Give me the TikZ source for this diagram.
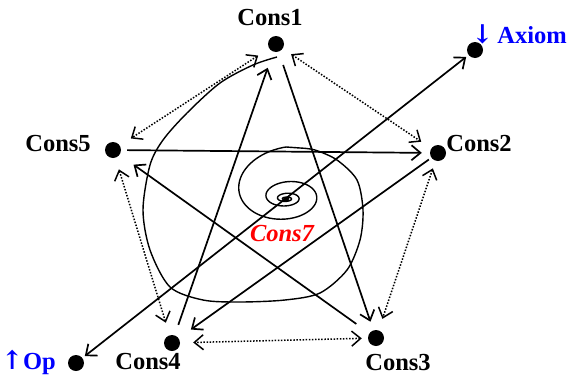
\documentclass[tikz,border=0pt]{standalone}
\usepackage{fontspec}
\setmainfont{Liberation Serif}
\newfontfamily\arrowfont{DejaVu Serif}
\usetikzlibrary{arrows.meta}
\begin{document}
\begin{tikzpicture}[x=1pt,y=-1pt,
  >={Straight Barb[length=9pt,width=15pt]},
  dotnode/.style={circle,fill=black,inner sep=0pt,minimum size=16pt},
  lbl/.style={inner sep=0pt,font=\fontsize{24.5}{28}\selectfont\bfseries},
  solidarrow/.style={line width=1.7pt,->},
  bothsolid/.style={line width=1.7pt,<->},
  dotarrow/.style={line width=1.5pt,dash pattern=on 1.5pt off 1.6pt,<->},
  spiralline/.style={line width=1.4pt}]
\useasboundingbox (0,0) rectangle (568,378);

% points
\node[dotnode] (c1) at (276,44) {};
\node[dotnode] (ax) at (475,50) {};
\node[dotnode] (c5) at (113,150) {};
\node[dotnode] (c2) at (438,153) {};
\node[dotnode] (c4) at (172,343) {};
\node[dotnode] (op) at (76,363) {};
\node[dotnode] (c3) at (376,338) {};

% labels
\node[lbl] (l1) at (270,18) {Cons1};
\node[lbl,text=blue,anchor=east] (lax) at (567,34) {{\arrowfont\bfseries\fontsize{26}{28}\selectfont ↓}\hspace{4pt}Axiom};
\node[lbl] (l5) at (58,144) {Cons5};
\node[lbl] (l2) at (479,144) {Cons2};
\node[lbl] (l4) at (148,362) {Cons4};
\node[lbl,text=blue,anchor=east] (lop) at (56,362) {{\arrowfont\bfseries\fontsize{26}{28}\selectfont ↑}Op};
\node[lbl] (l3) at (398,363) {Cons3};

% spiral
\draw[spiralline] plot[smooth] coordinates {(277,57) (253,65) (220,83) (187,113) (163,140) (150,165) (143,210) (150,250) (170,287) (203,300) (240,302) (285,300) (320,293) (347,270) (360,240) (363,210) (357,180) (337,160) (315,150) (300,148)}
  -- plot[domain=0:1620,samples=500,variable=\s] ({286+58*exp(-\s/420)*cos(\s+90)},{190+9*(1-exp(-\s/300))-43*exp(-\s/330)*sin(\s+90)});

% dotted pentagon
\draw[dotarrow,shorten <=13pt,shorten >=13pt] (c1) -- (c5);
\draw[dotarrow,shorten <=10pt,shorten >=12pt] (c1) -- (c2);
\draw[dotarrow,shorten <=8pt,shorten >=12pt] (c2) -- (c3);
\draw[dotarrow,shorten <=6pt,shorten >=13pt] (c3) -- (c4);
\draw[dotarrow,shorten <=13pt,shorten >=12pt] (c4) -- (c5);

% solid star
\draw[solidarrow,shorten <=6pt,shorten >=8pt] (c5) -- (c2);
\draw[solidarrow,shorten <=3pt,shorten >=15pt] (c2) -- (c4);
\draw[solidarrow,shorten <=11pt,shorten >=17pt] (c4) -- (c1);
\draw[solidarrow,shorten <=14pt,shorten >=9pt] (c1) -- (c3);
\draw[solidarrow,shorten <=16pt,shorten >=17pt] (c3) -- (c5);
\draw[bothsolid,shorten <=3pt,shorten >=3pt] (op) -- (ax);

\node[lbl,text=red,font=\fontsize{24.5}{28}\selectfont\bfseries\itshape] (l7) at (282,234) {Cons7};
\end{tikzpicture}
\end{document}
